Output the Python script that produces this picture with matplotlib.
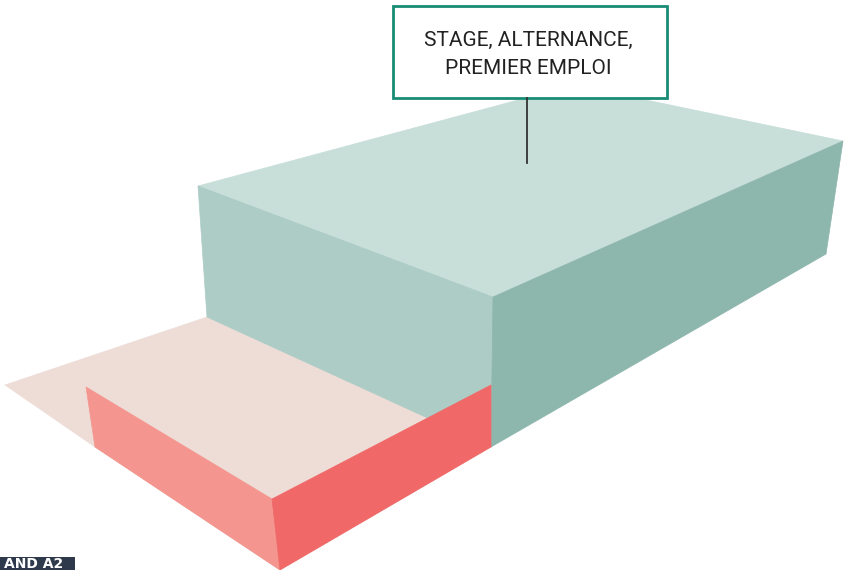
import matplotlib.pyplot as plt
from matplotlib.patches import Polygon, Rectangle

# corner points of the two blocks (pixel space, y down)
floor_pts = [(5, 385), (207, 317), (491, 385), (491, 447), (280, 570), (95, 447)]
teal_top = [(198, 186), (574, 85), (843, 141), (493, 297)]
teal_front = [(198, 186), (493, 297), (491, 447), (207, 317)]
teal_right = [(493, 297), (843, 141), (826, 254), (491, 447)]
pink_left = [(86, 387), (272, 499), (280, 570), (95, 447)]
pink_right = [(272, 499), (491, 385), (491, 447), (280, 570)]

label_lines = ["STAGE, ALTERNANCE,", "PREMIER EMPLOI"]
corner_tag = "AND A2"

faces = [
    (floor_pts, "#EEDDD7"),
    (teal_top, "#C8DED9"),
    (teal_front, "#ADCCC6"),
    (teal_right, "#8DB6AD"),
    (pink_left, "#F4968F"),
    (pink_right, "#F06868"),
]

fig = plt.figure(figsize=(8.45, 5.7), dpi=100)
ax = fig.add_axes([0, 0, 1, 1])
ax.set_xlim(0, 845)
ax.set_ylim(570, 0)
ax.axis("off")

for pts, col in faces:
    ax.add_patch(Polygon(pts, closed=True, facecolor=col, edgecolor=col, linewidth=0.5))

# callout line + label box
ax.plot([527, 527], [98, 163], color="#333333", linewidth=1.3)
ax.add_patch(Rectangle((393, 6), 274, 92, facecolor="white", edgecolor="#1A8C76", linewidth=2))
for i, line in enumerate(label_lines):
    ax.text(528, 40 + i * 28, line, ha="center", va="center", fontsize=15,
            family=["Roboto", "DejaVu Sans"], color="#222222")

# cut-off tag at bottom left
ax.add_patch(Rectangle((0, 557), 75, 20, facecolor="#2E3A4B", edgecolor="none"))
ax.text(4, 564, corner_tag, ha="left", va="center", fontsize=10, fontweight="bold", color="white")

fig.savefig("out.png", dpi=100)
